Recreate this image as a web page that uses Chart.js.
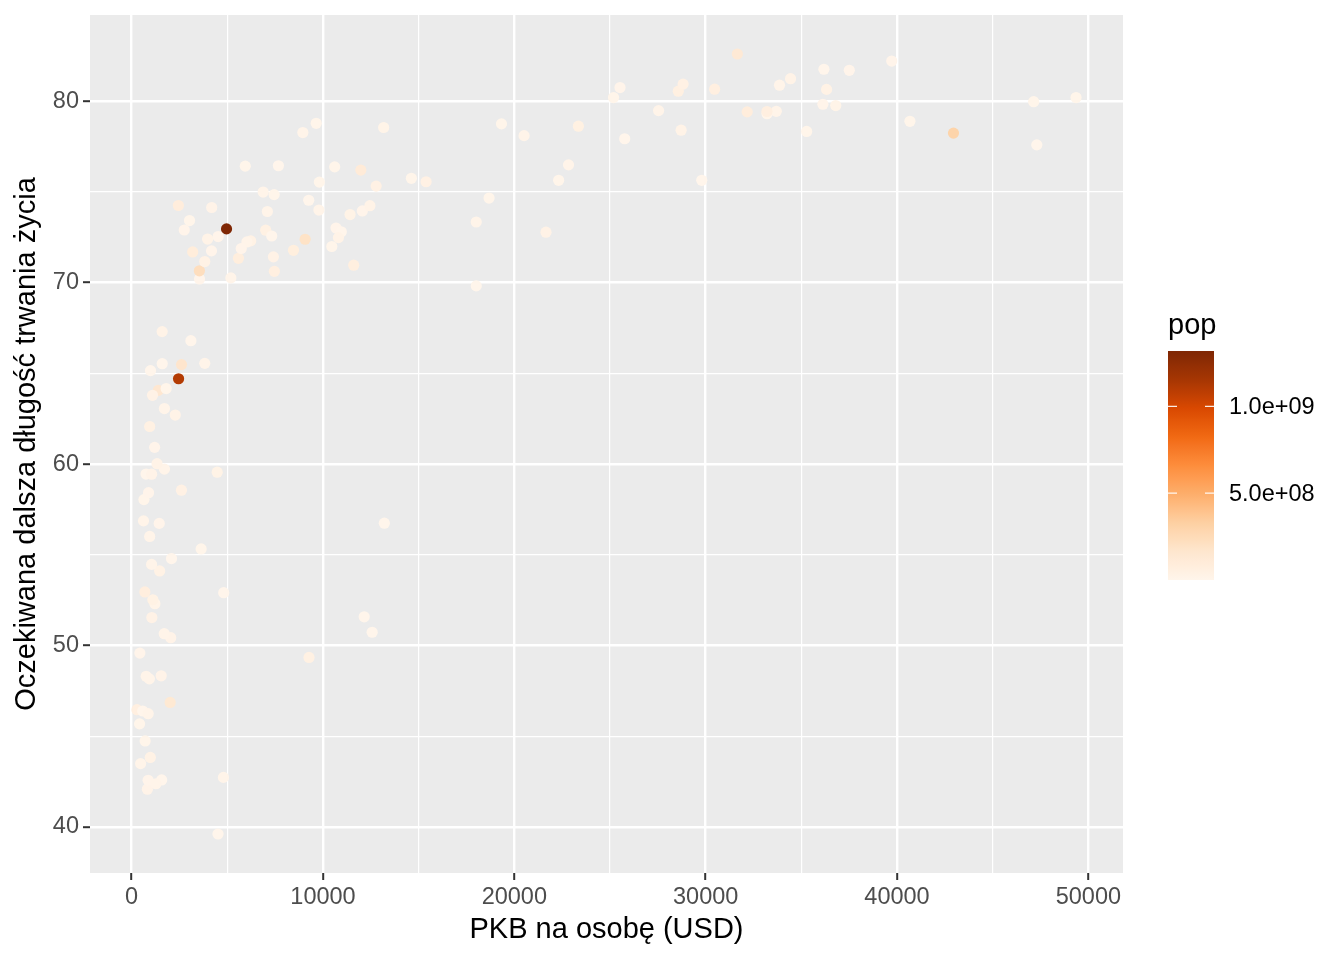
<!DOCTYPE html>
<html>
<head>
<meta charset="utf-8">
<script src="https://cdn.jsdelivr.net/npm/chart.js@4/dist/chart.umd.min.js"></script>
<style>
  html, body { margin: 0; padding: 0; background: #ffffff; }
  #wrap { width: 1344px; height: 960px; position: relative; }
</style>
</head>
<body>
<div id="wrap"><canvas id="c" width="1344" height="960"></canvas></div>
<script>
// Gapminder 2007: GDP per capita, life expectancy, population (alphabetical by country)
const gdpPercap = [974.58,5937.03,6223.37,4797.23,12779.38,34435.37,36126.49,29796.05,1391.25,33692.61,
  1441.28,3822.14,7446.30,12569.85,9065.80,10680.79,1217.03,430.07,1713.78,2042.10,
  36319.24,706.02,1704.06,13171.64,4959.11,7006.58,986.15,277.55,3632.56,9645.06,
  1544.75,14619.22,8948.10,22833.31,35278.42,2082.48,6025.37,6873.26,5581.18,5728.35,
  12154.09,641.37,690.81,33207.08,30470.02,13206.48,752.75,32170.37,1327.61,27538.41,
  5186.05,942.65,579.23,1201.64,3548.33,39724.98,18008.94,36180.79,2452.21,3540.65,
  11605.71,4471.06,40675.00,25523.28,28569.72,7320.88,31656.07,4519.46,1463.25,1593.07,
  23348.14,47306.99,10461.06,1569.33,414.51,12057.50,1044.77,759.35,12451.66,1042.58,
  1803.15,10956.99,11977.57,3095.77,9253.90,3820.18,823.69,944.00,4811.06,1091.36,
  36797.93,25185.01,2749.32,619.68,2013.98,49357.19,22316.19,2605.95,9809.19,4172.84,
  7408.91,3190.48,15389.92,20509.65,19328.71,7670.12,10808.48,863.09,1598.44,21654.83,
  1712.47,9786.53,862.54,47143.18,18678.31,25768.26,926.14,9269.66,28821.06,3970.10,
  2602.39,4513.48,33859.75,37506.42,4184.55,28718.28,1107.48,7458.40,882.97,18008.51,
  7092.92,8458.28,1056.38,33203.26,42951.65,10611.46,11415.81,2441.58,3025.35,2280.77,
  1271.21,469.71];
const lifeExp = [43.83,76.42,72.30,42.73,75.32,81.24,79.83,75.64,64.06,79.44,
  56.73,65.55,74.85,50.73,72.39,73.01,52.30,49.58,59.72,50.43,
  80.65,44.74,50.65,78.55,72.96,72.89,65.15,46.46,55.32,78.78,
  48.33,75.75,78.27,76.49,78.33,54.79,72.24,74.99,71.34,71.88,
  51.58,58.04,52.95,79.31,80.66,56.74,59.45,79.41,60.02,79.48,
  70.26,56.01,46.39,60.92,70.20,82.21,73.34,81.76,64.70,70.65,
  70.96,59.55,78.89,80.75,80.55,72.57,82.60,72.54,54.11,67.30,
  78.62,77.59,71.99,42.59,45.68,73.95,59.44,48.30,74.24,54.47,
  64.16,72.80,76.20,66.80,74.54,71.16,42.08,62.07,52.91,63.79,
  79.76,80.20,72.90,56.87,46.86,80.20,75.64,65.48,75.54,71.75,
  71.42,71.69,75.56,78.10,78.75,76.44,72.48,46.24,65.53,72.78,
  63.06,74.00,42.57,79.97,74.66,77.93,48.16,49.34,80.94,72.40,
  58.56,39.61,80.88,81.70,74.14,78.40,52.52,70.62,58.42,69.82,
  73.92,71.78,51.54,79.43,78.24,76.38,73.75,74.25,73.42,62.70,
  42.38,43.49];
const pop = [31889923,3600523,33333216,12420476,40301927,20434176,8199783,708573,150448339,10392226,
  8078314,9119152,4552198,1639131,190010647,7322858,14326203,8390505,14131858,17696293,
  33390141,4369038,10238807,16284741,1318683096,44227550,710960,64606759,3800610,4133884,
  18013409,4493312,11416987,10228744,5468120,496374,9319622,13755680,80264543,6939688,
  551201,4906585,76511887,5238460,61083916,1454867,1688359,82400996,22873338,10706290,
  12572928,9947814,1472041,8502814,7483763,6980412,9956108,301931,1110396331,223547000,
  69453570,27499638,4109086,6426679,58147733,2780132,127467972,6053193,35610177,23301725,
  49044790,2505559,3921278,2012649,3193942,6036914,19167654,13327079,24821286,12031795,
  3270065,1250882,108700891,2874127,684736,33757175,19951656,47761980,2055080,28901790,
  16570613,4115771,5675356,12894865,135031164,4627926,3204897,169270617,3242173,6667147,
  28674757,91077287,38518241,10642836,3942491,798094,22276056,8860588,199579,27601038,
  12267493,10150265,6144562,4553009,5447502,2009245,9118773,43997828,40448191,20378239,
  42292929,1133066,9031088,7554661,19314747,23174294,38139640,65068149,5701579,1056608,
  10276158,71158647,29170398,60776238,301139947,3447496,26084662,85262356,4018332,22211743,
  11746035,12311143];

const xTicks = [0,10000,20000,30000,40000,50000];
const yTicks = [40,50,60,70,80];
const legendBreaks = [5e8, 1e9];
const legendLabels = ['5.0e+08', '1.0e+09'];
const xTitle = 'PKB na osobę (USD)';
const yTitle = 'Oczekiwana dalsza długość trwania życia';
const legendTitle = 'pop';

const palette = ['#FFF5EB','#FEE6CE','#FDD0A2','#FDAE6B','#FD8D3C','#F16913','#D94801','#A63603','#7F2704'];
const popMin = Math.min(...pop), popMax = Math.max(...pop);

// --- Lab colour interpolation (as ggplot does) ---
function hexToRgb(h){ return [parseInt(h.substr(1,2),16),parseInt(h.substr(3,2),16),parseInt(h.substr(5,2),16)]; }
function srgbToLin(c){ c /= 255; return c <= 0.04045 ? c/12.92 : Math.pow((c+0.055)/1.055, 2.4); }
function linToSrgb(c){ const v = c <= 0.0031308 ? 12.92*c : 1.055*Math.pow(c, 1/2.4) - 0.055; return Math.max(0, Math.min(255, Math.round(v*255))); }
const WX = 0.95047, WY = 1.0, WZ = 1.08883;
function fLab(t){ return t > 216/24389 ? Math.cbrt(t) : (24389/27*t + 16)/116; }
function fInv(t){ const t3 = t*t*t; return t3 > 216/24389 ? t3 : (116*t - 16)/(24389/27); }
function rgbToLab(rgb){
  const [r,g,b] = rgb.map(srgbToLin);
  const X = 0.4124564*r + 0.3575761*g + 0.1804375*b;
  const Y = 0.2126729*r + 0.7151522*g + 0.0721750*b;
  const Z = 0.0193339*r + 0.1191920*g + 0.9503041*b;
  const fx = fLab(X/WX), fy = fLab(Y/WY), fz = fLab(Z/WZ);
  return [116*fy - 16, 500*(fx - fy), 200*(fy - fz)];
}
function labToRgb(lab){
  const fy = (lab[0] + 16)/116, fx = fy + lab[1]/500, fz = fy - lab[2]/200;
  const X = fInv(fx)*WX, Y = fInv(fy)*WY, Z = fInv(fz)*WZ;
  const r =  3.2404542*X - 1.5371385*Y - 0.4985314*Z;
  const g = -0.9692660*X + 1.8760108*Y + 0.0415560*Z;
  const b =  0.0556434*X - 0.2040259*Y + 1.0572252*Z;
  return [linToSrgb(r), linToSrgb(g), linToSrgb(b)];
}
const palLab = palette.map(h => rgbToLab(hexToRgb(h)));
function colorAt(t){
  t = Math.max(0, Math.min(1, t));
  const p = t * (palLab.length - 1);
  const i = Math.min(Math.floor(p), palLab.length - 2);
  const f = p - i;
  const a = palLab[i], b = palLab[i+1];
  const rgb = labToRgb([0,1,2].map(k => a[k] + (b[k]-a[k])*f));
  return 'rgb(' + rgb.join(',') + ')';
}
function popColor(v){ return colorAt((v - popMin) / (popMax - popMin)); }

const points = gdpPercap.map((g, i) => ({x: g, y: lifeExp[i], p: pop[i]}));

function range(arr){ const mn = Math.min(...arr), mx = Math.max(...arr); const e = (mx-mn)*0.05; return [mn-e, mx+e]; }
const xr = range(gdpPercap), yr = range(lifeExp);

const FONT = "'Liberation Sans', Arial, sans-serif";
const TICK_SIZE = 23.5, TITLE_SIZE = 29;

const panelBg = {
  id: 'panelBg',
  beforeDraw(chart){
    const {ctx, chartArea: a} = chart;
    ctx.save();
    ctx.fillStyle = '#EBEBEB';
    ctx.fillRect(a.left, a.top, a.right - a.left, a.bottom - a.top);
    ctx.restore();
  }
};

const colorbar = {
  id: 'colorbar',
  afterDraw(chart){
    const ctx = chart.ctx;
    const x0 = 1168, w = 46, top = 351, bottom = 580;
    ctx.save();
    ctx.fillStyle = '#000';
    ctx.font = TITLE_SIZE + 'px ' + FONT;
    ctx.textBaseline = 'alphabetic';
    ctx.textAlign = 'left';
    ctx.fillText(legendTitle, x0, 334);
    const grad = ctx.createLinearGradient(0, bottom, 0, top);
    const n = 60;
    for (let s = 0; s <= n; s++) grad.addColorStop(s / n, colorAt(s / n));
    ctx.fillStyle = grad;
    ctx.fillRect(x0, top, w, bottom - top);
    ctx.font = TICK_SIZE + 'px ' + FONT;
    ctx.textBaseline = 'middle';
    legendBreaks.forEach((b, i) => {
      const t = (b - popMin) / (popMax - popMin);
      const y = bottom - t * (bottom - top);
      ctx.strokeStyle = 'rgba(255,255,255,0.9)';
      ctx.lineWidth = 1.2;
      ctx.beginPath();
      ctx.moveTo(x0, y); ctx.lineTo(x0 + 9, y);
      ctx.moveTo(x0 + w - 9, y); ctx.lineTo(x0 + w, y);
      ctx.stroke();
      ctx.fillStyle = '#000';
      ctx.fillText(legendLabels[i], 1229, y + 1);
    });
    ctx.restore();
  }
};

function gridOpts(isMajor){
  return {
    color: '#FFFFFF',
    lineWidth: ctx => isMajor(ctx.tick && ctx.tick.value) ? 2.4 : 1.2,
    drawTicks: true,
    tickLength: 7,
    tickWidth: 2,
    tickColor: ctx => isMajor(ctx.tick && ctx.tick.value) ? '#333333' : 'rgba(0,0,0,0)',
    z: 0
  };
}

new Chart(document.getElementById('c'), {
  type: 'scatter',
  data: {
    datasets: [{
      data: points,
      pointRadius: 5.6,
      pointHoverRadius: 5.6,
      pointBorderWidth: 0,
      borderWidth: 0,
      pointBackgroundColor: ctx => ctx.raw ? popColor(ctx.raw.p) : '#fff',
      backgroundColor: ctx => ctx.raw ? popColor(ctx.raw.p) : '#fff'
    }]
  },
  options: {
    responsive: false,
    animation: false,
    devicePixelRatio: 1,
    layout: { padding: { left: 0, right: 221, top: 15, bottom: 0 } },
    plugins: { legend: { display: false }, tooltip: { enabled: false } },
    scales: {
      x: {
        type: 'linear',
        min: xr[0], max: xr[1],
        afterBuildTicks: s => { const t = []; for (let v = 0; v <= 50000; v += 5000) t.push({value: v}); s.ticks = t; },
        afterFit: s => { s.height = 87; s.paddingLeft = 0; s.paddingRight = 0; },
        border: { display: false },
        grid: gridOpts(v => xTicks.includes(v)),
        ticks: {
          autoSkip: false, maxRotation: 0, padding: 3,
          color: '#4D4D4D', font: { family: FONT, size: TICK_SIZE },
          callback: v => xTicks.includes(v) ? String(v) : ''
        },
        title: { display: true, text: xTitle, color: '#000', font: { family: FONT, size: TITLE_SIZE }, padding: { top: 2, bottom: 13 } }
      },
      y: {
        type: 'linear',
        min: yr[0], max: yr[1],
        afterBuildTicks: s => { const t = []; for (let v = 40; v <= 80; v += 5) t.push({value: v}); s.ticks = t; },
        afterFit: s => { s.width = 90; s.paddingTop = 0; s.paddingBottom = 0; },
        border: { display: false },
        grid: gridOpts(v => yTicks.includes(v)),
        ticks: {
          autoSkip: false, padding: 4,
          color: '#4D4D4D', font: { family: FONT, size: TICK_SIZE },
          callback: v => yTicks.includes(v) ? String(v) : ''
        },
        title: { display: true, text: yTitle, color: '#000', font: { family: FONT, size: TITLE_SIZE }, padding: { top: 10, bottom: 8 } }
      }
    }
  },
  plugins: [panelBg, colorbar]
});
</script>
</body>
</html>
